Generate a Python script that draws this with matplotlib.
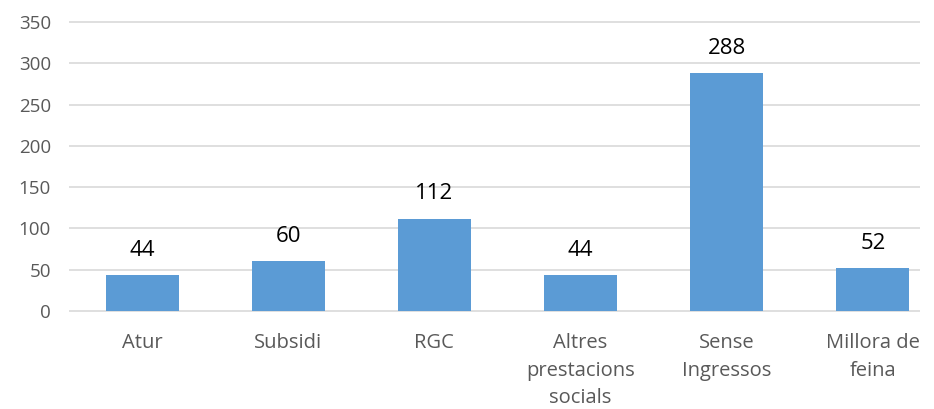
import matplotlib.pyplot as plt
import numpy as np

categories = ["Atur", "Subsidi", "RGC", "Altres\nprestacions\nsocials",
              "Sense\nIngressos", "Millora de\nfeina"]
values = [44, 60, 112, 44, 288, 52]
yticks = [0, 50, 100, 150, 200, 250, 300, 350]

plt.rcParams["font.family"] = ["Open Sans", "DejaVu Sans"]

fig = plt.figure(figsize=(9.34, 4.09), dpi=100)
ax = fig.add_axes([69 / 934, 98 / 409, 877 / 934, 289 / 409])

x = np.arange(len(categories))
ax.bar(x, values, width=0.5, color="#5b9bd5", zorder=3)
for xi, v in zip(x, values):
    ax.text(xi, v + 17, str(v), ha="center", va="bottom", fontsize=16, color="black")

# gridlines stop a little short of the axes' right edge, like the source
grid_end = (920 - 69) / 146.2 - 0.5
ax.hlines(yticks, -0.5, grid_end, color="#d9d9d9", linewidth=1.2, zorder=0, clip_on=False)

ax.set_xlim(-0.5, len(categories) - 0.5)
ax.set_ylim(0, 350)
ax.set_yticks(yticks)
ax.set_xticks(x)
ax.set_xticklabels(categories, fontsize=14.5, color="#595959", linespacing=1.5)
ax.tick_params(axis="y", labelsize=13.5, labelcolor="#595959", length=0, pad=13)
ax.tick_params(axis="x", length=0, pad=16)
for s in ax.spines.values():
    s.set_visible(False)

fig.savefig("out.png", dpi=100)
